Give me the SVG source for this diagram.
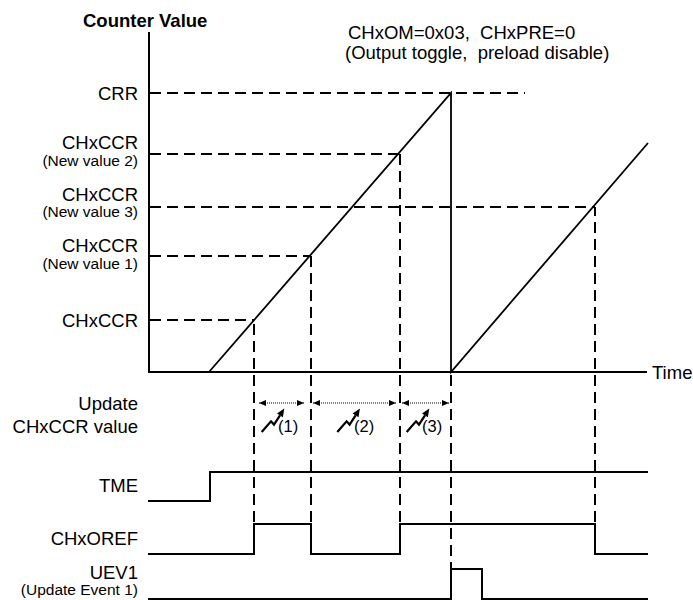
<svg xmlns="http://www.w3.org/2000/svg" width="693" height="600" viewBox="0 0 693 600">
<style>
text{font-family:"Liberation Sans",Arial,Helvetica,sans-serif;fill:#000;white-space:pre}
.lbl{font-size:18.5px;text-anchor:end}
.sub{font-size:15.5px;text-anchor:end}
.ttl{font-size:18.5px}
.num{font-size:16.5px}
.solid{stroke:#000;stroke-width:2;fill:none}
.ramp{stroke:#000;stroke-width:1.8;fill:none}
.dash{stroke:#000;stroke-width:2;fill:none;stroke-dasharray:11 6}
.dot{stroke:#000;stroke-width:1;fill:none;stroke-dasharray:1 1}
</style>
<defs>
<marker id="ah" viewBox="0 0 7 6" refX="7" refY="3" markerWidth="7" markerHeight="6" markerUnits="userSpaceOnUse" orient="auto-start-reverse">
<path d="M0,0 L7,3 L0,6 Z" fill="#000"/>
</marker>
<g id="bolt">
<path d="M0,0 L9.3,-10.7 L12.3,-7.4 L18.3,-16.7" stroke="#000" stroke-width="2.2" fill="none"/>
<path d="M22.6,-23.4 L21.2,-14.8 L15.3,-18.6 Z" fill="#000"/>
</g>
</defs>

<g id="title">
<text x="83" y="26.5" style="font-size:18.5px;font-weight:bold">Counter Value</text>
<text class="ttl" x="348" y="39">CHxOM=0x03,  CHxPRE=0</text>
<text class="ttl" x="345" y="58.5">(Output toggle,  preload disable)</text>
</g>

<g id="axes">
<line class="solid" x1="149" y1="32" x2="149" y2="373"/>
<line class="solid" x1="148" y1="372" x2="647" y2="372"/>
<text class="lbl" x="652" y="379" style="text-anchor:start">Time</text>
</g>

<g id="levels">
<text class="lbl" x="138" y="99.5">CRR</text>
<text class="lbl" x="138" y="149">CHxCCR</text>
<text class="sub" x="138" y="166">(New value 2)</text>
<text class="lbl" x="138" y="201">CHxCCR</text>
<text class="sub" x="138" y="217">(New value 3)</text>
<text class="lbl" x="138" y="252">CHxCCR</text>
<text class="sub" x="138" y="269">(New value 1)</text>
<text class="lbl" x="138" y="326.5">CHxCCR</text>
</g>

<g id="connectors">
<line class="dash" x1="150" y1="93" x2="525" y2="93"/>
<line class="dash" x1="150" y1="154" x2="400" y2="154"/>
<line class="dash" x1="150" y1="207" x2="595" y2="207"/>
<line class="dash" x1="150" y1="256" x2="311" y2="256"/>
<line class="dash" x1="150" y1="320" x2="254" y2="320"/>
<line class="dash" x1="254" y1="320" x2="254" y2="524" stroke-dashoffset="13"/>
<line class="dash" x1="311" y1="256" x2="311" y2="524" stroke-dashoffset="0"/>
<line class="dash" x1="400" y1="154" x2="400" y2="524" stroke-dashoffset="0"/>
<line class="dash" x1="451" y1="372" x2="451" y2="569" stroke-dashoffset="14"/>
<line class="dash" x1="595" y1="207" x2="595" y2="524" stroke-dashoffset="2"/>
<line class="dot" x1="259" y1="403" x2="304" y2="403" marker-start="url(#ah)" marker-end="url(#ah)"/>
<line class="dot" x1="313" y1="403" x2="396" y2="403" marker-start="url(#ah)" marker-end="url(#ah)"/>
<line class="dot" x1="402" y1="403" x2="449" y2="403" marker-start="url(#ah)" marker-end="url(#ah)"/>
</g>

<g id="counter">
<path class="ramp" d="M209,372 L451,93 L451,372 L648,143"/>
</g>

<g id="update">
<text class="lbl" x="138" y="410">Update</text>
<text class="lbl" x="138" y="433">CHxCCR value</text>
<use href="#bolt" x="261.7" y="432"/>
<use href="#bolt" x="337.3" y="432"/>
<use href="#bolt" x="406.7" y="432"/>
<text class="num" x="278" y="432">(1)</text>
<text class="num" x="354" y="432">(2)</text>
<text class="num" x="422" y="432">(3)</text>
</g>

<g id="tme">
<text class="lbl" x="138" y="492">TME</text>
<path class="solid" d="M148,501 L210,501 L210,472 L648,472"/>
</g>

<g id="chxoref">
<text class="lbl" x="138" y="545">CHxOREF</text>
<path class="solid" d="M148,554 L254,554 L254,524 L311,524 L311,554 L400,554 L400,524 L595,524 L595,554 L648,554"/>
</g>

<g id="uev1">
<text class="lbl" x="138" y="579">UEV1</text>
<text class="sub" x="138" y="595">(Update Event 1)</text>
<path class="solid" d="M148,599 L451,599 L451,569 L482,569 L482,599 L648,599"/>
</g>
</svg>
